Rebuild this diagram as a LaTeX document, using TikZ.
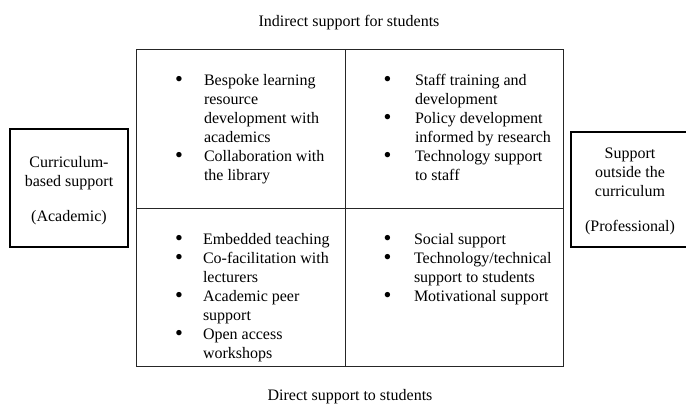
\documentclass[tikz,border=0pt]{standalone}
\usepackage{fontspec}
\setmainfont{Liberation Serif}
\usepackage{graphicx}
\newcommand\bul{\makebox[0pt]{\raisebox{-1pt}{\scalebox{1.4}{\textbullet}}}}
\begin{document}
\begin{tikzpicture}[x=1pt,y=-1pt,
  every node/.style={font=\fontsize{16}{19}\selectfont, inner sep=0pt, outer sep=0pt},
  cell/.style={draw=black!85, line width=0.9pt, anchor=north west},
  sidebox/.style={draw=black, line width=1.6pt, anchor=north west},
  label/.style={anchor=base},
  list/.style={anchor=base west}]
\useasboundingbox (0,0) rectangle (686,405);
\clip (0,0) rectangle (686,405);
% titles
\node[label] (top) at (349,26) {Indirect support for students};
\node[label] (bottom) at (350,400) {Direct support to students};
% grid cells
\node[cell, minimum width=209.5pt, minimum height=159pt] (tl) at (136,49) {};
\node[cell, minimum width=217.5pt, minimum height=159pt] (tr) at (345.5,49) {};
\node[cell, minimum width=209.5pt, minimum height=158pt] (bl) at (136,208) {};
\node[cell, minimum width=217.5pt, minimum height=158pt] (br) at (345.5,208) {};
% side boxes
\node[sidebox, minimum width=118pt, minimum height=118pt] (lb) at (10,129) {};
\node[sidebox, minimum width=118pt, minimum height=115pt] (rb) at (571,132) {};
\node[label] (lbtext) at (69,167) {\begin{tabular}[t]{@{}c@{}}Curriculum-\\based support\\[16pt](Academic)\end{tabular}};
\node[label] (rbtext) at (630,158) {\begin{tabular}[t]{@{}c@{}}Support\\outside the\\curriculum\\[16pt](Professional)\end{tabular}};
% lists
\node[list] (tllist) at (179,85) {\begin{tabular}[t]{@{}p{25pt}@{}l@{}}
\bul & Bespoke learning\\
 & resource\\
 & development with\\
 & academics\\
\bul & Collaboration with\\
 & the library\end{tabular}};
\node[list] (trlist) at (387.5,85) {\begin{tabular}[t]{@{}p{27.5pt}@{}l@{}}
\bul & Staff training and\\
 & development\\
\bul & Policy development\\
 & informed by research\\
\bul & Technology support\\
 & to staff\end{tabular}};
\node[list] (bllist) at (179,244) {\begin{tabular}[t]{@{}p{24pt}@{}l@{}}
\bul & Embedded teaching\\
\bul & Co-facilitation with\\
 & lecturers\\
\bul & Academic peer\\
 & support\\
\bul & Open access\\
 & workshops\end{tabular}};
\node[list] (brlist) at (387.5,244) {\begin{tabular}[t]{@{}p{26.5pt}@{}l@{}}
\bul & Social support\\
\bul & Technology/technical\\
 & support to students\\
\bul & Motivational support\end{tabular}};
\end{tikzpicture}
\end{document}
